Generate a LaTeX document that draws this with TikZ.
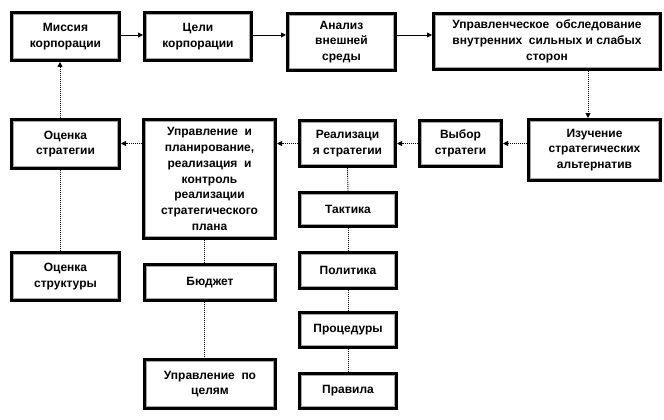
\documentclass[tikz,border=0pt]{standalone}
\usepackage{fontspec}
\setmainfont{Liberation Sans}
\usetikzlibrary{arrows.meta,calc}
\begin{document}
\begin{tikzpicture}[x=1pt,y=-1pt,
  box/.style={draw=black, line width=3pt, fill=white, align=center, inner sep=2pt,
    font=\fontsize{12}{15.7}\selectfont\bfseries,
    path picture={\draw[gray!70, line width=0.8pt]
      ([shift={(2.2pt,2.2pt)}]path picture bounding box.south west) rectangle
      ([shift={(-2.2pt,-2.2pt)}]path picture bounding box.north east);}},
  solidarrow/.style={line width=0.9pt, -{Triangle[length=5pt,width=5pt]}},
  dotarrow/.style={line width=0.9pt, dash pattern=on 1pt off 1pt, -{Triangle[length=5pt,width=5pt]}},
  dotline/.style={line width=0.9pt, dash pattern=on 1pt off 1pt}
]
\useasboundingbox (0,0) rectangle (664,420);
% top row
\node[box, minimum width=108pt, minimum height=48pt] (mis) at (65.5,36.5) {Миссия\\корпорации};
\node[box, minimum width=107pt, minimum height=48pt] (celi) at (198,36.5) {Цели\\корпорации};
\node[box, minimum width=108pt, minimum height=57pt] (anal) at (341.5,42) {Анализ\\внешней\\среды};
\node[box, minimum width=227pt, minimum height=56pt] (upr) at (547,41.5) {Управленческое\ \ обследование\\внутренних\ \ сильных и слабых\\сторон};
% second row
\node[box, minimum width=132pt, minimum height=61pt] (izuch) at (594.5,150) {Изучение\\стратегических\\альтернатив};
\node[box, minimum width=82pt, minimum height=46pt] (vybor) at (460.5,143.5) {Выбор\\стратеги};
\node[box, minimum width=96pt, minimum height=46pt] (real) at (347.5,143.5) {Реализаци\\я стратегии};
\node[box, minimum width=132pt, minimum height=119pt] (big) at (209.5,179) {Управление\ \ и\\планирование,\\реализация\ \ и\\контроль\\реализации\\стратегического\\плана};
\node[box, minimum width=108pt, minimum height=49pt] (ocstr) at (65.5,144) {Оценка\\стратегии};
\node[box, minimum width=108pt, minimum height=48pt] (ocstruct) at (65.5,276.5) {Оценка\\структуры};
% right column
\node[box, minimum width=97pt, minimum height=34pt] (takt) at (348,209.5) {Тактика};
\node[box, minimum width=97pt, minimum height=36pt] (polit) at (348,270.5) {Политика};
\node[box, minimum width=97pt, minimum height=35pt] (proc) at (348,330) {Процедуры};
\node[box, minimum width=97pt, minimum height=35pt] (prav) at (348,391) {Правила};
% middle column
\node[box, minimum width=131pt, minimum height=36pt] (budg) at (210,282.5) {Бюджет};
\node[box, minimum width=131pt, minimum height=49pt] (uprc) at (210,384) {Управление\ \ по\\целям};
% connectors
\draw[solidarrow] (mis.east |- 0,35) -- (celi.west |- 0,35);
\draw[solidarrow] (celi.east |- 0,35) -- (anal.west |- 0,35);
\draw[solidarrow] (anal.east |- 0,35) -- (upr.west |- 0,35);
\draw[dotarrow] ([xshift=-6.5pt]izuch.north |- upr.south) -- ([xshift=-6.5pt]izuch.north);
\draw[dotarrow] (izuch.west |- vybor.east) -- (vybor.east);
\draw[dotarrow] (vybor.west) -- (real.east);
\draw[dotarrow] (real.west) -- (big.east |- real.west);
\draw[dotarrow] (big.west |- real.west) -- (ocstr.east |- real.west);
\draw[dotarrow] ([xshift=-5.5pt]ocstr.north) -- ([xshift=-5.5pt]mis.south);
\draw[dotline] ([xshift=-5.5pt]ocstruct.north) -- ([xshift=-5.5pt]ocstr.south);
\draw[dotline] ([xshift=-5.5pt]big.south) -- ([xshift=-5.5pt]big.south |- budg.north);
\draw[dotline] ([xshift=-5.5pt]big.south |- budg.south) -- ([xshift=-5.5pt]big.south |- uprc.north);
\draw[dotline] (real.south) -- (takt.north);
\draw[dotline] (takt.south) -- (polit.north);
\draw[dotline] (polit.south) -- (proc.north);
\draw[dotline] (proc.south) -- (prav.north);
\end{tikzpicture}
\end{document}
